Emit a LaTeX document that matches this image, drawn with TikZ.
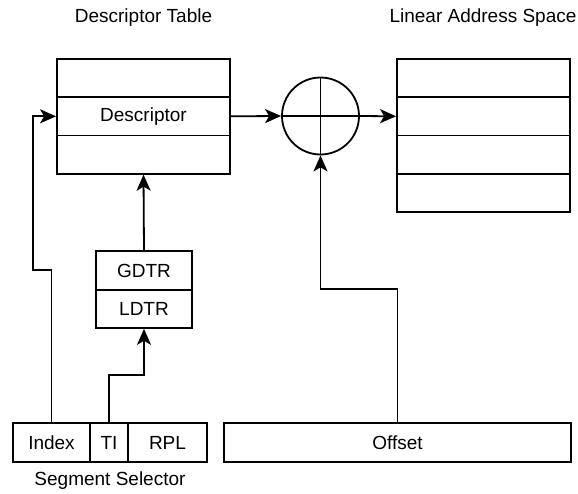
\documentclass[tikz,border=0pt]{standalone}
\usepackage{fontspec}
\setmainfont{Liberation Sans}
\usetikzlibrary{arrows.meta}
\begin{document}
\begin{tikzpicture}[x=1pt,y=-1pt,
  line width=1.8pt,
  every node/.style={font=\fontsize{19}{22}\selectfont},
  cell/.style={draw,rectangle,inner sep=0pt,minimum height=38.3pt},
  caption/.style={inner sep=0pt},
  adder/.style={draw,circle,inner sep=0pt,minimum size=77pt},
  link/.style={-{Stealth[length=16pt,width=14pt,inset=4pt]}}
]
\useasboundingbox (0,0) rectangle (578,493);

% titles
\node[caption] (tdt)  at (143.5,18) {Descriptor Table};
\node[caption] (tlas) at (483,18) {Linear Address Space};
\node[caption] (tsel) at (110,481) {Segment Selector};

% descriptor table
\node[cell,minimum width=173pt] (dt1) at (143.5,78) {};
\node[cell,minimum width=173pt] (dt2) at (143.5,116.3) {Descriptor};
\node[cell,minimum width=173pt] (dt3) at (143.5,154.6) {};

% linear address space
\node[cell,minimum width=173pt] (la1) at (483.5,78) {};
\node[cell,minimum width=173pt] (la2) at (483.5,116.3) {};
\node[cell,minimum width=173pt] (la3) at (483.5,154.6) {};
\node[cell,minimum width=173pt] (la4) at (483.5,192.9) {};

% adder
\node[adder] (sum) at (320.5,116) {};
\draw (sum.west) -- (sum.east);
\draw (sum.north) -- (sum.south);

% table registers
\node[cell,minimum width=96pt] (gdtr) at (144,270.5) {GDTR};
\node[cell,minimum width=96pt] (ldtr) at (144,308.8) {LDTR};

% segment selector fields
\node[cell,minimum width=77pt,minimum height=39pt] (idx) at (51.5,442.5) {Index};
\node[cell,minimum width=38pt,minimum height=39pt] (ti)  at (109,442.5) {TI};
\node[cell,minimum width=79pt,minimum height=39pt] (rpl) at (167.5,442.5) {RPL};

% offset
\node[cell,minimum width=347pt,minimum height=39pt] (off) at (397.5,442.5) {Offset};

% connectors
\draw[link] (idx.north) -- (51.5,270) -- (33,270) |- (dt2.west);
\draw[link] (ti.north) -- (109,375) -| (ldtr.south);
\draw[link] (gdtr.north) -- (dt3.south);
\draw[link] (dt2.east) -- (sum.west);
\draw[link] (sum.east) -- (la2.west);
\draw[link] (off.north) -- (397.5,289) -| (sum.south);
\end{tikzpicture}
\end{document}
